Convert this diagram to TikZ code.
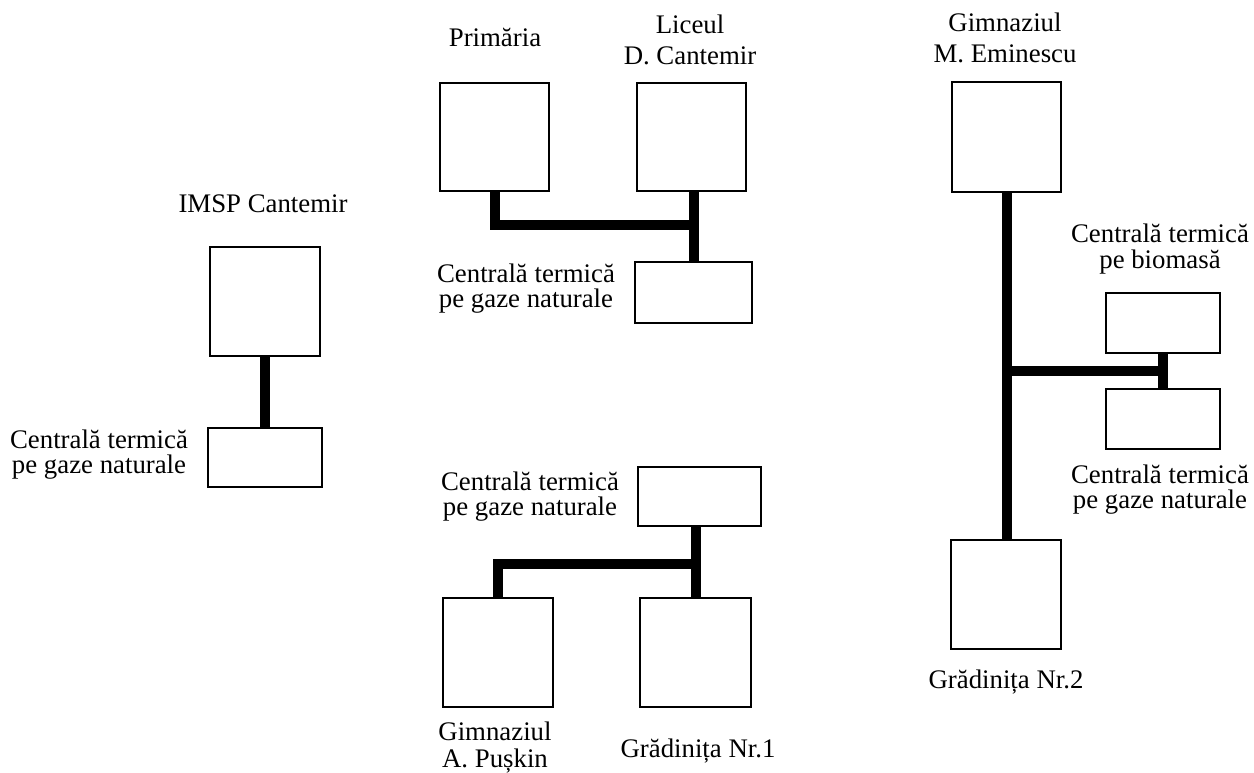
\documentclass[tikz,border=0pt]{standalone}
\usepackage{fontspec}
\setmainfont{Liberation Serif}
\begin{document}
\begin{tikzpicture}[x=1pt,y=-1pt,
  box/.style={draw,line width=1.4pt,fill=white,inner sep=0pt},
  pipe/.style={line width=10pt},
  lbl/.style={font=\fontsize{26.8}{25}\selectfont,align=center,anchor=base,inner sep=0pt},
  lblw/.style={font=\fontsize{26.8}{31}\selectfont,align=center,anchor=base,inner sep=0pt}]
\useasboundingbox (0,0) rectangle (1254,773);
% boxes
\node[box,minimum width=110pt,minimum height=109pt] (imsp) at (265,301.5) {};
\node[box,minimum width=114pt,minimum height=59pt] (imspC) at (265,457.5) {};
\node[box,minimum width=109pt,minimum height=108pt] (prim) at (494.5,137) {};
\node[box,minimum width=109pt,minimum height=108pt] (lic) at (691.5,137) {};
\node[box,minimum width=117pt,minimum height=61pt] (licC) at (693.5,292.5) {};
\node[box,minimum width=123pt,minimum height=59pt] (pusC) at (699.5,496.5) {};
\node[box,minimum width=110pt,minimum height=109pt] (pus) at (498,652.5) {};
\node[box,minimum width=111pt,minimum height=109pt] (gr1) at (695.5,652.5) {};
\node[box,minimum width=109pt,minimum height=110pt] (emi) at (1006.5,137) {};
\node[box,minimum width=110pt,minimum height=109pt] (gr2) at (1006,594.5) {};
\node[box,minimum width=114pt,minimum height=60pt] (bio) at (1163,323) {};
\node[box,minimum width=114pt,minimum height=60pt] (gaz) at (1163,419) {};
% connectors
\coordinate (j1) at (693.5,225);
\coordinate (j2) at (695.5,564);
\coordinate (j3) at (1006.5,371);
\coordinate (j4) at (1163,371);
\draw[pipe] (imsp.south) -- (imspC.north);
\draw[pipe] (prim.south) |- (j1);
\draw[pipe] (licC.north |- lic.south) -- (licC.north);
\draw[pipe] (gr1.north |- pusC.south) -- (gr1.north);
\draw[pipe] (pus.north) |- (j2);
\draw[pipe] (emi.south) -- (emi.south |- gr2.north);
\draw[pipe] (j3) -- (j4);
\draw[pipe] (bio.south) -- (gaz.north);
% labels (base anchor = baseline of last line)
\node[lbl] (imspL) at (263,213) {IMSP Cantemir};
\node[lbl] (imspCL) at (99,473) {Centrală termică\\pe gaze naturale};
\node[lbl] (primL) at (495,47) {Primăria};
\node[lblw] (licL) at (690,65) {Liceul\\D. Cantemir};
\node[lbl] (licCL) at (526,307) {Centrală termică\\pe gaze naturale};
\node[lbl] (pusCL) at (530,515) {Centrală termică\\pe gaze naturale};
\node[lbl,font=\fontsize{26.8}{27}\selectfont] (pusL) at (495,767) {Gimnaziul\\A. Pușkin};
\node[lbl] (gr1L) at (698,757) {Grădinița Nr.1};
\node[lblw] (emiL) at (1005,63) {Gimnaziul\\M. Eminescu};
\node[lbl] (bioL) at (1160,268) {Centrală termică\\pe biomasă};
\node[lbl] (gazL) at (1160,508) {Centrală termică\\pe gaze naturale};
\node[lbl] (gr2L) at (1006,688) {Grădinița Nr.2};
\end{tikzpicture}
\end{document}
